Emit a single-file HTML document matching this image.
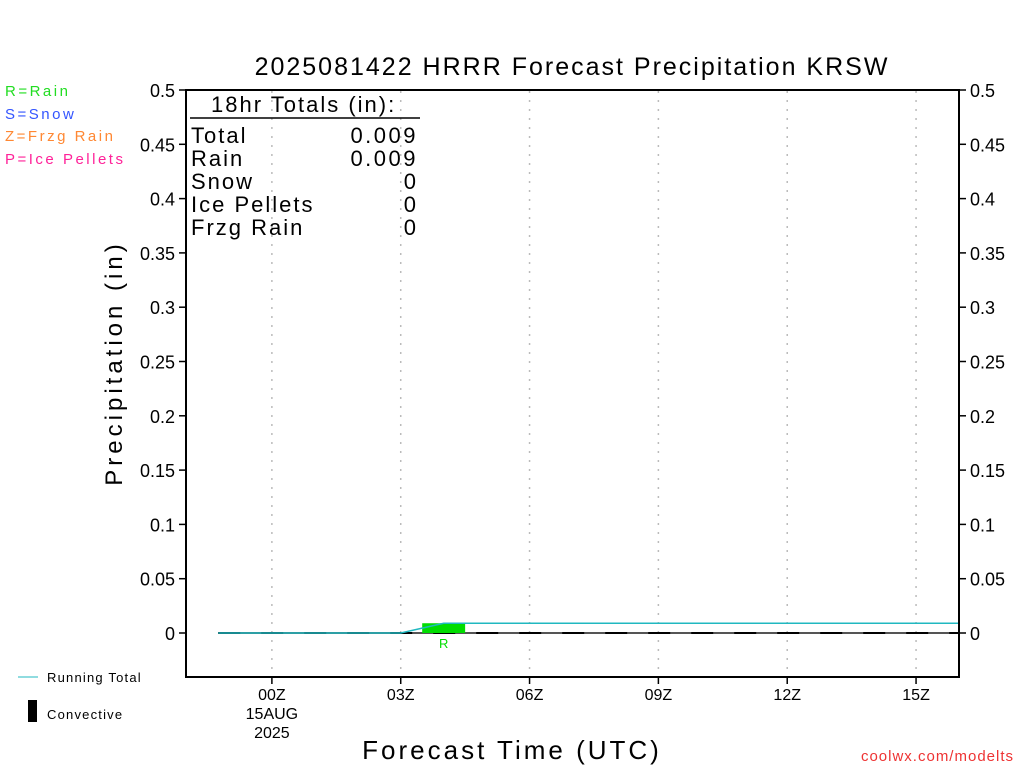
<!DOCTYPE html>
<html><head><meta charset="utf-8"><style>
html,body{margin:0;padding:0;background:#fff;}
svg{display:block;font-family:"Liberation Sans",sans-serif;}
</style></head><body>
<svg id="chart" width="1024" height="768" viewBox="0 0 1024 768" xmlns="http://www.w3.org/2000/svg">
<rect width="1024" height="768" fill="#fff"/>
<text x="572" y="75" font-size="25" text-anchor="middle" fill="#000" letter-spacing="2">2025081422 HRRR Forecast Precipitation KRSW</text>
<g font-size="15" letter-spacing="2.5">
<text x="5" y="96" fill="#22dd22">R=Rain</text>
<text x="5" y="119" fill="#3355ff">S=Snow</text>
<text x="5" y="141" fill="#ff8833">Z=Frzg Rain</text>
<text x="5" y="164" fill="#ff2299">P=Ice Pellets</text>
</g>
<g id="grid"></g>
<g id="yl"></g>
<g id="yr"></g>
<g id="xa"></g>
<g id="marks"></g>
<rect x="186" y="90" width="773" height="587" fill="none" stroke="#000" stroke-width="2"/>
<g font-size="22" fill="#000" letter-spacing="2">
<text x="211" y="112">18hr Totals (in):</text>
<line x1="190" y1="118" x2="420" y2="118" stroke="#000" stroke-width="1.5"/>
<text x="191" y="143">Total</text><text x="418" y="143" text-anchor="end" letter-spacing="2.5">0.009</text>
<text x="191" y="166">Rain</text><text x="418" y="166" text-anchor="end" letter-spacing="2.5">0.009</text>
<text x="191" y="189">Snow</text><text x="418" y="189" text-anchor="end">0</text>
<text x="191" y="212">Ice Pellets</text><text x="418" y="212" text-anchor="end">0</text>
<text x="191" y="235">Frzg Rain</text><text x="418" y="235" text-anchor="end">0</text>
</g>
<text transform="translate(122,363) rotate(-90)" font-size="24" text-anchor="middle" letter-spacing="4">Precipitation (in)</text>
<text x="512" y="759" font-size="26" text-anchor="middle" letter-spacing="3">Forecast Time (UTC)</text>
<g font-size="13" letter-spacing="1.2">
<line x1="18" y1="677" x2="38" y2="677" stroke="#20b8c0" stroke-width="1"/>
<text x="47" y="682">Running Total</text>
<rect x="28" y="700" width="9" height="22" fill="#000"/>
<text x="47" y="719">Convective</text>
</g>
<text x="1014" y="761" font-size="15" text-anchor="end" fill="#ee3333" letter-spacing="1">coolwx.com/modelts</text>
<script>
const yTicks=[0,0.05,0.1,0.15,0.2,0.25,0.3,0.35,0.4,0.45,0.5];
const xTickHours=[2,5,8,11,14,17];
const xTickLabels=["00Z","03Z","06Z","09Z","12Z","15Z"];
const totalHours=[0.75,1,2,3,4,5,6,7,8,9,10,11,12,13,14,15,16,17,18];
const runningTotal=[0,0,0,0,0,0,0.009,0.009,0.009,0.009,0.009,0.009,0.009,0.009,0.009,0.009,0.009,0.009,0.009];
const rainHours=[6];
const rainValues=[0.009];
const ns="http://www.w3.org/2000/svg";
const X=h=>186+h*(773/18);
const Y=v=>633-v*(543/0.5);
function mk(t,a,p){const e=document.createElementNS(ns,t);for(const k in a)e.setAttribute(k,a[k]);p.appendChild(e);return e;}
const g=document.getElementById('grid'),yl=document.getElementById('yl'),yr=document.getElementById('yr'),xa=document.getElementById('xa'),m=document.getElementById('marks');
yTicks.forEach(v=>{
const t1=mk('text',{x:175,y:Y(v)+7,'font-size':18,'text-anchor':'end'},yl);


t1.textContent=String(v);
const l1=mk('line',{x1:179,x2:186,y1:Y(v),y2:Y(v),stroke:'#000','stroke-width':1.5},yl);


const l2=mk('line',{x1:959,x2:966,y1:Y(v),y2:Y(v),stroke:'#000','stroke-width':1.5},yr);


const t2=mk('text',{x:970,y:Y(v)+7,'font-size':18},yr);


t2.textContent=String(v);
});
xTickHours.forEach((h,i)=>{
const gl=mk('line',{x1:X(h),x2:X(h),y1:91,y2:676,stroke:'#bbb','stroke-width':1.5,'stroke-dasharray':'2,7'},g);


const tk=mk('line',{x1:X(h),x2:X(h),y1:677,y2:684,stroke:'#000','stroke-width':1.5},xa);


const tl=mk('text',{x:X(h),y:700,'font-size':16,'text-anchor':'middle'},xa);


tl.textContent=xTickLabels[i];
});
const d1=mk('text',{x:X(2),y:719,'font-size':16,'text-anchor':'middle'},xa);


d1.textContent='15AUG';
const d2=mk('text',{x:X(2),y:738,'font-size':16,'text-anchor':'middle'},xa);


d2.textContent='2025';
const base0=mk('line',{x1:X(totalHours[0]),x2:959,y1:Y(0),y2:Y(0),stroke:'#555','stroke-width':2},m);


const base=mk('line',{x1:X(totalHours[0]),x2:959,y1:Y(0),y2:Y(0),stroke:'#000','stroke-width':2,'stroke-dasharray':'22,21'},m);


rainHours.forEach((h,i)=>{
const r=mk('rect',{x:X(h-0.5),y:Y(rainValues[i]),width:X(h+0.5)-X(h-0.5),height:Y(0)-Y(rainValues[i]),fill:'#00dd00'},m);


const rl=mk('text',{x:X(h),y:Y(0)+15,'font-size':13,'text-anchor':'middle',fill:'#00dd00'},m);


rl.textContent='R';
});
const pts=totalHours.map((h,i)=>X(h)+','+Y(runningTotal[i])).join(' ');
const pl=mk('polyline',{points:pts,fill:'none',stroke:'#20b8c0','stroke-width':1.5},m);


</script>
</svg>
</body></html>
